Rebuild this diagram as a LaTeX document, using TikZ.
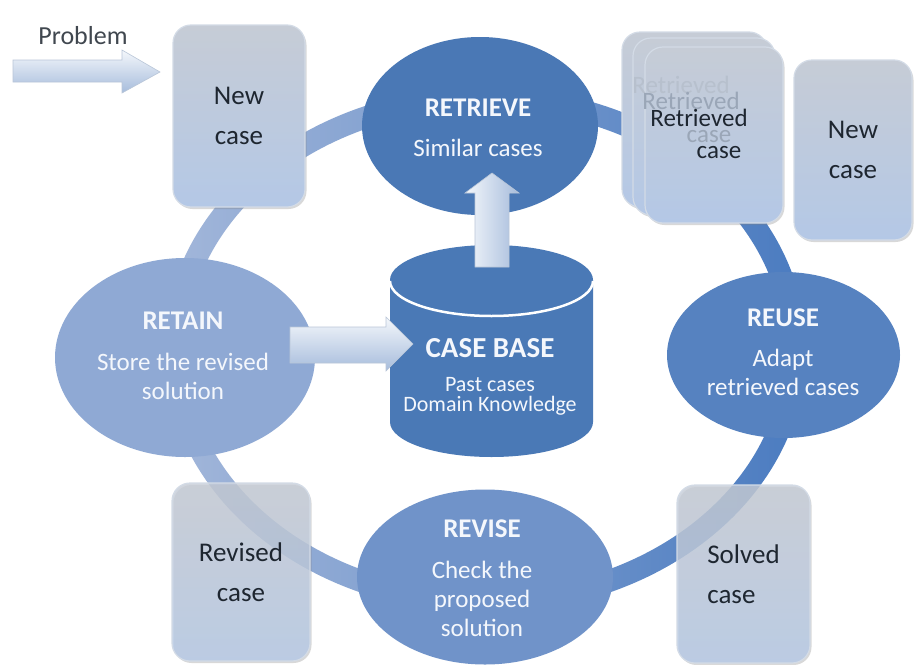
\documentclass[tikz,border=0pt]{standalone}
\usepackage{fontspec}
\setmainfont{Carlito}
\usetikzlibrary{shapes.geometric,shadows}
\definecolor{ringL}{HTML}{A3B7DA}
\definecolor{ringR}{HTML}{4A7BC0}
\definecolor{retrieveC}{HTML}{4A78B5}
\definecolor{reuseC}{HTML}{5682C0}
\definecolor{reviseC}{HTML}{7093C9}
\definecolor{retainC}{HTML}{8FA9D4}
\definecolor{baseC}{HTML}{4A79B6}
\definecolor{boxTop}{HTML}{C6CCD6}
\definecolor{boxBot}{HTML}{B4C8E6}
\definecolor{boxLine}{HTML}{D3DBE6}
\definecolor{txtDark}{HTML}{1E2630}
\definecolor{txtLight}{HTML}{F4F7FC}
\definecolor{arrLight}{HTML}{F4F7FB}
\definecolor{arrDark}{HTML}{A6BCDC}
\definecolor{arrLine}{HTML}{B9C6D8}
\definecolor{fadeA}{HTML}{B7C0CD}
\definecolor{fadeB}{HTML}{9AA6B7}
\newcommand\phtitle[1]{{\bfseries\fontsize{27}{29}\selectfont #1}}
\tikzset{
  casebox/.style={rectangle, rounded corners=18pt, top color=boxTop, bottom color=boxBot,
    draw=boxLine, line width=1.2pt, text opacity=1,
    text=txtDark, font=\fontsize{27}{40}\selectfont, align=center, inner sep=0pt,
    drop shadow={shadow xshift=1.5pt, shadow yshift=-2pt, opacity=0.3}},
  seethru/.style={fill opacity=0.8, text opacity=1},
  boxtext/.style={text=txtDark, font=\fontsize{25}{30}\selectfont, inner sep=0pt},
  phase/.style={ellipse, inner sep=0pt, draw=none},
  phasetext/.style={text=txtLight, font=\fontsize{25}{29}\selectfont, align=center, inner sep=0pt},
  blockarrow/.style={draw=arrLine, line width=0.6pt},
}
\begin{document}
\begin{tikzpicture}[x=1pt,y=-1pt]
\fill[white] (0,0) rectangle (915,664);
\useasboundingbox (0,0) rectangle (915,664);

% ring
\coordinate (ringc) at (485,350);
\shade[left color=ringL, right color=ringR, even odd rule]
  (ringc) ellipse [x radius=321pt, y radius=263pt]
  (ringc) ellipse [x radius=299pt, y radius=241pt];

% case boxes
\node[casebox, minimum width=132pt, minimum height=182pt] (newcase) at (239,116) {New\\case};
\node[casebox, minimum width=118pt, minimum height=180pt] (newcase2) at (853,150) {New\\case};
\node[casebox, seethru, minimum width=138pt, minimum height=178pt] (revised) at (241,572) {Revised\\case};
\node[casebox, seethru, minimum width=133pt, minimum height=178pt, align=left] (solved) at (743.5,574) {Solved\\case};

\node[casebox, minimum width=145pt, minimum height=175pt] (ret3) at (694.5,119.5) {};
\node[casebox, minimum width=142pt, minimum height=177pt] (ret2) at (704,126.5) {};
\node[casebox, minimum width=138pt, minimum height=176pt] (ret1) at (714,135) {};
\node[boxtext, text=fadeA] (ret3a) at (681,85) {Retrieved};
\node[boxtext, text=fadeB] (ret2a) at (691,101) {Retrieved};
\node[boxtext, text=fadeB] (ret2b) at (709,137) {case};
\node[boxtext] (ret1a) at (699,118) {Retrieved};
\node[boxtext] (ret1b) at (719,153) {case};

% phases
\node[phase, fill=retrieveC, minimum width=236pt, minimum height=178pt] (retrieve) at (480,126) {};
\node[phase, fill=reuseC, minimum width=233pt, minimum height=166pt] (reuse) at (783.5,355) {};
\node[phase, fill=reviseC, minimum width=256pt, minimum height=175pt] (revise) at (485,577) {};
\node[phase, fill=retainC, minimum width=260pt, minimum height=199pt] (retain) at (185,357.5) {};

% case base cylinder
\fill[baseC] (390,280) -- (390,422) arc[start angle=180, end angle=360, x radius=101.5pt, y radius=35pt] -- (593,280) -- cycle;
\fill[baseC] (491.5,280) ellipse [x radius=101.5pt, y radius=35pt];
\draw[white, line width=2.5pt] (390,281) arc[start angle=180, end angle=360, x radius=101.5pt, y radius=35pt];

% block arrows
\node[text=txtDark!85, font=\fontsize{26}{30}\selectfont, inner sep=0pt] (problem) at (83,36) {Problem};
\shade[blockarrow, top color=arrLight, bottom color=arrDark]
  (13,60) -- (122,60) -- (122,50) -- (160,72) -- (122,93) -- (122,82) -- (13,82) -- cycle;
\shade[blockarrow, left color=arrLight, right color=arrDark]
  (475,267) -- (475,193) -- (465,193) -- (492,173) -- (519,193) -- (509,193) -- (509,267) -- cycle;
\shade[blockarrow, top color=arrLight, bottom color=arrDark]
  (290,327) -- (386,327) -- (386,317) -- (413,344) -- (386,371) -- (386,363) -- (290,363) -- cycle;

% texts
\node[phasetext] (retrieveT) at (478,128) {\phtitle{RETRIEVE}\\[11pt]Similar cases};
\node[phasetext] (retainT) at (183,356) {\phtitle{RETAIN}\\[12pt]Store the revised\\solution};
\node[phasetext] (reuseT) at (783,352) {\phtitle{REUSE}\\[11pt]Adapt\\retrieved cases};
\node[phasetext] (reviseT) at (482,578) {\phtitle{REVISE}\\[12pt]Check the\\proposed\\solution};
\node[text=txtLight, font=\fontsize{22}{20}\selectfont, align=center, inner sep=0pt] (casebase) at (490,377)
  {{\bfseries\fontsize{29}{30}\selectfont CASE BASE}\\[14pt]Past cases\\Domain Knowledge};
\end{tikzpicture}
\end{document}
